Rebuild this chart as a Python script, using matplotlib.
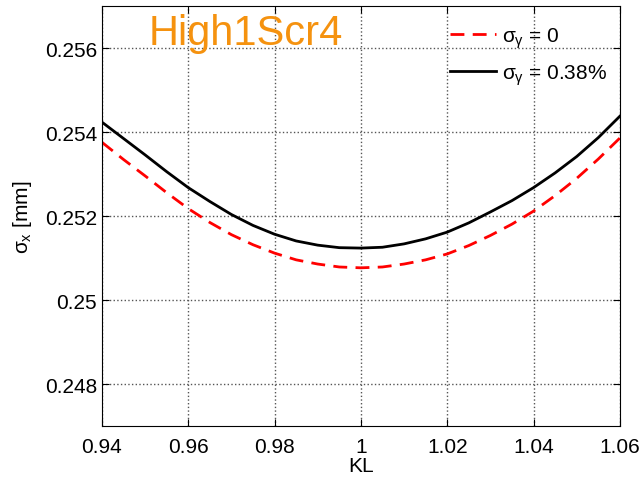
import numpy as np
import matplotlib
matplotlib.use("Agg")
import matplotlib.pyplot as plt

plt.rcParams['font.family'] = ['Liberation Sans', 'DejaVu Sans']
plt.rcParams['mathtext.fontset'] = 'custom'
plt.rcParams['mathtext.rm'] = 'Liberation Sans'
plt.rcParams['mathtext.it'] = 'Liberation Sans'

kl = [0.940, 0.945, 0.950, 0.955, 0.960, 0.965, 0.970, 0.975, 0.980, 0.985,
      0.990, 0.995, 1.000, 1.005, 1.010, 1.015, 1.020, 1.025, 1.030, 1.035,
      1.040, 1.045, 1.050, 1.055, 1.060]

sigma_spread = [0.25424, 0.25385, 0.25346, 0.25306, 0.25268, 0.25235, 0.25204,
                0.25178, 0.25157, 0.25141, 0.25131, 0.25125, 0.25124, 0.25126,
                0.25134, 0.25146, 0.25162, 0.25184, 0.25210, 0.25237, 0.25268,
                0.25303, 0.25342, 0.25387, 0.25438]

sigma_zero = [0.25376, 0.25335, 0.25296, 0.25256, 0.25218, 0.25185, 0.25156,
              0.25132, 0.25112, 0.25096, 0.25086, 0.25079, 0.25077, 0.25079,
              0.25086, 0.25096, 0.25110, 0.25130, 0.25154, 0.25181, 0.25212,
              0.25249, 0.25290, 0.25336, 0.25386]

xticks = [0.94, 0.96, 0.98, 1.0, 1.02, 1.04, 1.06]
xlabels = ["0.94", "0.96", "0.98", "1", "1.02", "1.04", "1.06"]
yticks = [0.248, 0.25, 0.252, 0.254, 0.256]
ylabels = ["0.248", "0.25", "0.252", "0.254", "0.256"]

fig = plt.figure(figsize=(6.41, 4.81), dpi=100)
ax = fig.add_axes([0.159, 0.112, 0.808, 0.873])

ax.plot(kl, sigma_zero, "--", color="red", lw=2, dashes=(5, 3),
        label=r"$\sigma_\gamma$ = 0")
ax.plot(kl, sigma_spread, "-", color="black", lw=2,
        label=r"$\sigma_\gamma$ = 0.38%")

ax.set_xlim(0.94, 1.06)
ax.set_ylim(0.247, 0.257)
ax.set_xticks(xticks)
ax.set_xticklabels(xlabels)
ax.set_yticks(yticks)
ax.set_yticklabels(ylabels)
ax.tick_params(direction="in", top=True, right=True, labelsize=15, length=5)
ax.tick_params(axis="x", pad=8)
ax.grid(True, linestyle=":", color="#555555", lw=1)

ax.set_xlabel("KL", fontsize=15, labelpad=0)
ax.set_ylabel(r"$\sigma_x$ [mm]", fontsize=15, labelpad=8)

ax.text(0.091, 0.91, "High1Scr4", transform=ax.transAxes, color="#F5920F",
        fontsize=30, va="baseline", ha="left")

leg = ax.legend(loc="upper right", bbox_to_anchor=(1.0, 0.985), frameon=False,
                fontsize=15, handlelength=2.2, labelspacing=0.6,
                borderaxespad=0.2, handletextpad=0.3)

fig.savefig("out.png", dpi=100)
